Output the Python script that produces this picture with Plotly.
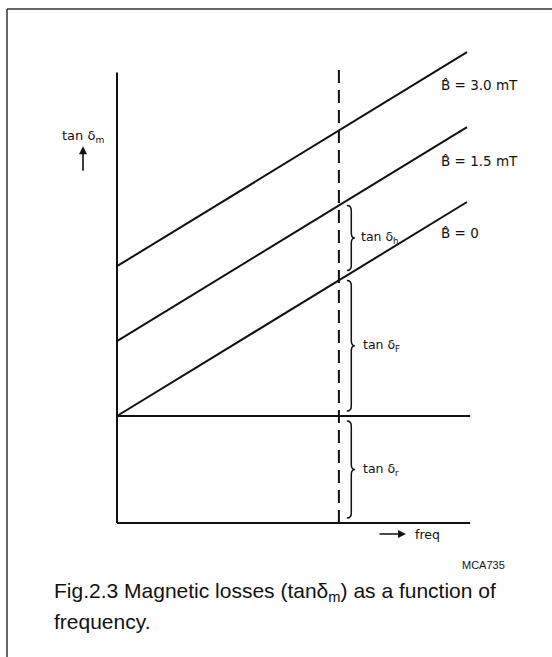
import plotly.graph_objects as go

# Schematic: magnetic loss factor tan(delta_m) versus frequency
freq = [0.0, 1.0]                 # normalised frequency span
tan_r = 1.0                       # residual loss level
eddy_rise = 2.0                   # eddy-current loss added across the span
flux_labels = ["B\u0302 = 0", "B\u0302 = 1.5 mT", "B\u0302 = 3.0 mT"]
hyst_offset = [0.0, 0.7, 1.4]     # hysteresis loss for each flux density
f_marker = 0.634                  # frequency of the dashed cut
axis_top = 4.21
axis_end = 1.009

LINE = "#111111"
FONT = "DejaVu Sans"

# pixel-to-data scale of the drawing area
SX, SY = 350.0, 107.0
X0, Y0 = 117.0, 523.0


def loss(f, h):
    return tan_r + eddy_rise * f + h


fig = go.Figure()

# loss lines for each flux density
for lab, h in zip(flux_labels, hyst_offset):
    fig.add_trace(go.Scatter(
        x=freq, y=[loss(f, h) for f in freq], mode="lines",
        line=dict(color=LINE, width=2), hoverinfo="skip", showlegend=False))

# axes and residual level
fig.add_trace(go.Scatter(x=[0, 0], y=[0, axis_top], mode="lines",
                         line=dict(color=LINE, width=2), showlegend=False, hoverinfo="skip"))
fig.add_trace(go.Scatter(x=[0, axis_end], y=[0, 0], mode="lines",
                         line=dict(color=LINE, width=2), showlegend=False, hoverinfo="skip"))
fig.add_trace(go.Scatter(x=[0, axis_end], y=[tan_r, tan_r], mode="lines",
                         line=dict(color=LINE, width=2), showlegend=False, hoverinfo="skip"))

# dashed frequency cut
fig.add_trace(go.Scatter(x=[f_marker, f_marker], y=[0, axis_top + 0.04], mode="lines",
                         line=dict(color=LINE, width=2, dash="13px,7px"),
                         showlegend=False, hoverinfo="skip"))


def brace_path(xb, y_lo, y_hi):
    w = 8 / SX
    xs = xb + 0.55 * w
    xt = xb + w
    ry = 5 / SY
    ym = (y_lo + y_hi) / 2
    return (f"M {xb},{y_hi} Q {xs},{y_hi} {xs},{y_hi - ry} "
            f"L {xs},{ym + ry} Q {xs},{ym} {xt},{ym} "
            f"Q {xs},{ym} {xs},{ym - ry} "
            f"L {xs},{y_lo + ry} Q {xs},{y_lo} {xb},{y_lo}")


xb = f_marker + 8 / SX
gap = 5 / SY
level_h = loss(xb, hyst_offset[1])
level_f = loss(xb, hyst_offset[0])
spans = [
    ("tan δ<sub>h</sub>", level_f + gap, level_h - gap, 4),
    ("tan δ<sub>F</sub>", tan_r + gap, level_f - gap, 6),
    ("tan δ<sub>r</sub>", 0 + gap, tan_r - gap, 6),
]
annotations = []
for lab, lo, hi, pad in spans:
    fig.add_shape(type="path", path=brace_path(xb, lo, hi), xref="x", yref="y",
                  line=dict(color=LINE, width=1.5))
    annotations.append(dict(x=xb + (8 + pad) / SX, y=(lo + hi) / 2, text=lab,
                            xanchor="left", yanchor="middle", showarrow=False,
                            font=dict(family=FONT, size=12.5, color=LINE)))

# flux density labels at the right end of each line
for lab, h, dy in zip(flux_labels, hyst_offset, [-0.29, -0.32, -0.31]):
    annotations.append(dict(x=0.92, y=loss(1.0, h) + dy, text=lab,
                            xanchor="left", yanchor="middle", showarrow=False,
                            font=dict(family=FONT, size=13.5, color=LINE)))

# vertical axis label and arrow
annotations.append(dict(x=-11 / SX, y=3.61, text="tan δ<sub>m</sub>", xanchor="right",
                        yanchor="middle", showarrow=False,
                        font=dict(family=FONT, size=13, color=LINE)))
annotations.append(dict(x=-34 / SX, y=3.52, ax=0, ay=26, text="", showarrow=True,
                        arrowhead=2, arrowsize=1, arrowwidth=1.6, arrowcolor=LINE))

# frequency arrow and label
annotations.append(dict(x=289 / SX, y=-0.103, ax=-28, ay=0, text="", showarrow=True,
                        arrowhead=2, arrowsize=1, arrowwidth=1.6, arrowcolor=LINE))
annotations.append(dict(x=296 / SX, y=-0.103, text="freq", xanchor="left",
                        yanchor="middle", showarrow=False,
                        font=dict(family=FONT, size=12.5, color=LINE)))

# drawing code and caption
annotations.append(dict(x=343 / SX, y=-0.393, text="MCA735", xanchor="left",
                        yanchor="middle", showarrow=False,
                        font=dict(family="Liberation Sans", size=11, color=LINE)))
annotations.append(dict(x=-65 / SX, y=-0.645, text="Fig.2.3 Magnetic losses (tanδ<sub>m</sub>) as a function of",
                        xanchor="left", yanchor="middle", showarrow=False,
                        font=dict(family="Liberation Sans", size=21, color=LINE)))
annotations.append(dict(x=-65 / SX, y=-0.92, text="frequency.",
                        xanchor="left", yanchor="middle", showarrow=False,
                        font=dict(family="Liberation Sans", size=21, color=LINE)))

# outer frame (top and left edges)
fig.add_shape(type="line", xref="paper", yref="paper", x0=7 / 552, x1=1.0,
              y0=1 - 9 / 657, y1=1 - 9 / 657, line=dict(color="#333333", width=1.5))
fig.add_shape(type="line", xref="paper", yref="paper", x0=7 / 552, x1=7 / 552,
              y0=0, y1=1 - 9 / 657, line=dict(color="#333333", width=1.5))

fig.update_layout(
    width=552, height=657, margin=dict(l=0, r=0, t=0, b=0),
    paper_bgcolor="white", plot_bgcolor="white",
    xaxis=dict(range=[-X0 / SX, (552 - X0) / SX], visible=False, fixedrange=True),
    yaxis=dict(range=[(Y0 - 657) / SY, Y0 / SY], visible=False, fixedrange=True),
    annotations=annotations, showlegend=False,
)

fig.write_html("out.html")
